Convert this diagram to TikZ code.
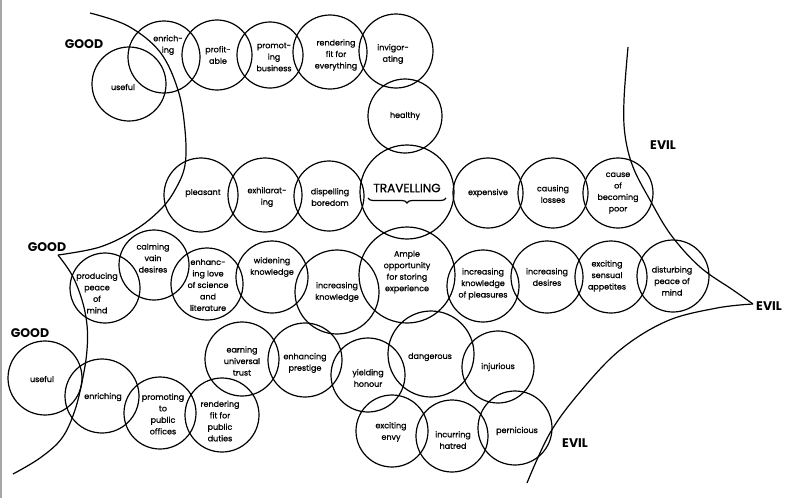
\documentclass[tikz,border=0pt]{standalone}
\usepackage{fontspec}
\setmainfont{Poppins}
\newfontfamily\medfont{Poppins}[FakeBold=0.9]
\usetikzlibrary{decorations.pathreplacing}
\newcommand\mybub[5]{\node[bub=#3, label={[txt, shift={(#4)}]center:{#5}}] (#1) at (#2) {};}
\tikzset{
  bub/.style={draw, circle, line width=1.2pt, inner sep=0pt, minimum size=#1},
  txt/.style={align=center, inner sep=0pt, font=\medfont\fontsize{8}{11.5}\selectfont},
  side/.style={font=\bfseries\fontsize{12.5}{12.5}\selectfont, inner sep=0pt},
  bound/.style={line width=1.2pt},
}
\begin{document}
\begin{tikzpicture}[x=1pt, y=-1pt]
\useasboundingbox (0,0) rectangle (786,498);
\draw[gray!70, line width=2pt] (1,0) -- (1,498);
% top row
\mybub{a1}{129,84}{74pt}{-6,3}{useful}
\mybub{a2}{164,57}{72pt}{4,-12}{enrich-\\ing}
\mybub{a3}{217,55}{70pt}{1,0}{profit-\\able}
\mybub{a4}{270,55}{66pt}{4,2}{promot-\\ing\\business}
\mybub{a5}{330,52}{74pt}{6,3}{rendering\\fit for\\everything}
\mybub{a6}{396,51}{74pt}{-3,3}{invigor-\\ating}
\mybub{a7}{405,116}{74pt}{0,0}{healthy}
% middle row
\mybub{b1}{201,195}{74pt}{2,-2}{pleasant}
\mybub{b2}{265,195}{74pt}{2,2}{exhilarat-\\ing}
\mybub{b3}{329,196}{70pt}{1,1}{dispelling\\boredom}
\node[bub=94pt] (trav) at (407,192) {};
\node[inner sep=0pt, font=\medfont\fontsize{12}{12}\selectfont] (travt) at (407,188) {TRAVELLING};
\draw[line width=1.2pt, decorate, decoration={brace, mirror, amplitude=5pt, aspect=0.5}]
  ([xshift=-39pt, yshift=-6pt]trav.center) -- ([xshift=39pt, yshift=-6pt]trav.center);
\mybub{b4}{488,193}{70pt}{0,0}{expensive}
\mybub{b5}{553,193}{70pt}{0,1}{causing\\losses}
\mybub{b6}{618,193}{70pt}{0,0}{cause\\of\\becoming\\poor}
% third row
\mybub{c1}{105,288}{70pt}{-8,5}{producing\\peace\\of\\mind}
\mybub{c2}{154,265}{70pt}{-1,-7}{calming\\vain\\desires}
\mybub{c3}{207,284}{72pt}{1,1}{enhanc-\\ing love\\of science\\and\\literature}
\mybub{c4}{272,277}{72pt}{0,-10}{widening\\knowledge}
\mybub{c5}{337,292}{84pt}{0,0}{increasing\\knowledge}
\mybub{c6}{407,275}{96pt}{0,-3}{Ample\\opportunity\\for storing\\experience}
\mybub{c7}{483,286}{72pt}{0,-2}{increasing\\knowledge\\of pleasures}
\mybub{c8}{547,277}{72pt}{0,0}{increasing\\desires}
\mybub{c9}{611,277}{72pt}{-4,-1}{exciting\\sensual\\appetites}
\mybub{c10}{673,276}{72pt}{-1,5}{disturbing\\peace of\\mind}
% lower rows
\mybub{d1}{45,378}{74pt}{-3,1}{useful}
\mybub{d2}{102,396}{74pt}{1,1}{enriching}
\mybub{d3}{160,413}{72pt}{3,1}{promoting\\to\\public\\offices}
\mybub{d4}{222,415}{74pt}{-2,6}{rendering\\fit for\\public\\duties}
\mybub{e1}{242,359}{74pt}{0,2}{earning\\universal\\trust}
\mybub{e2}{305,360}{74pt}{0,3}{enhancing\\prestige}
\mybub{e3}{368,375}{74pt}{0,3}{yielding\\honour}
\mybub{e4}{431,354}{86pt}{-1,3}{dangerous}
\mybub{e5}{498,367}{72pt}{0,0}{injurious}
\mybub{f1}{392,431}{72pt}{-1,1}{exciting\\envy}
\mybub{f2}{452,436}{72pt}{1,4}{incurring\\hatred}
\mybub{f3}{515,428}{74pt}{2,3}{pernicious}
% boundaries
\draw[bound] plot[smooth, tension=0.6] coordinates {(90,13) (128,26) (160,52) (178,90) (185,130) (185,165) (175,190) (160,210) (135,230) (100,247) (58,255)};
\draw[bound] plot[smooth, tension=0.6] coordinates {(58,255) (72,275) (82,300) (87,325) (87,350) (83,377) (75,410) (62,438) (40,458) (13,474)};
\draw[bound] plot[smooth, tension=0.6] coordinates {(628,47) (624,100) (625,135) (633,167) (650,200) (671,235) (700,267) (733,290) (753,304)};
\draw[bound] plot[smooth, tension=0.6] coordinates {(753,304) (717,308) (667,321) (620,350) (580,392) (550,433) (527,483)};
% labels
\node[side] (g1) at (84,44) {GOOD};
\node[side] (g2) at (47,247) {GOOD};
\node[side] (g3) at (30,333) {GOOD};
\node[side] (v1) at (663,145) {EVIL};
\node[side] (v2) at (769,306) {EVIL};
\node[side] (v3) at (575,443) {EVIL};
\end{tikzpicture}
\end{document}
